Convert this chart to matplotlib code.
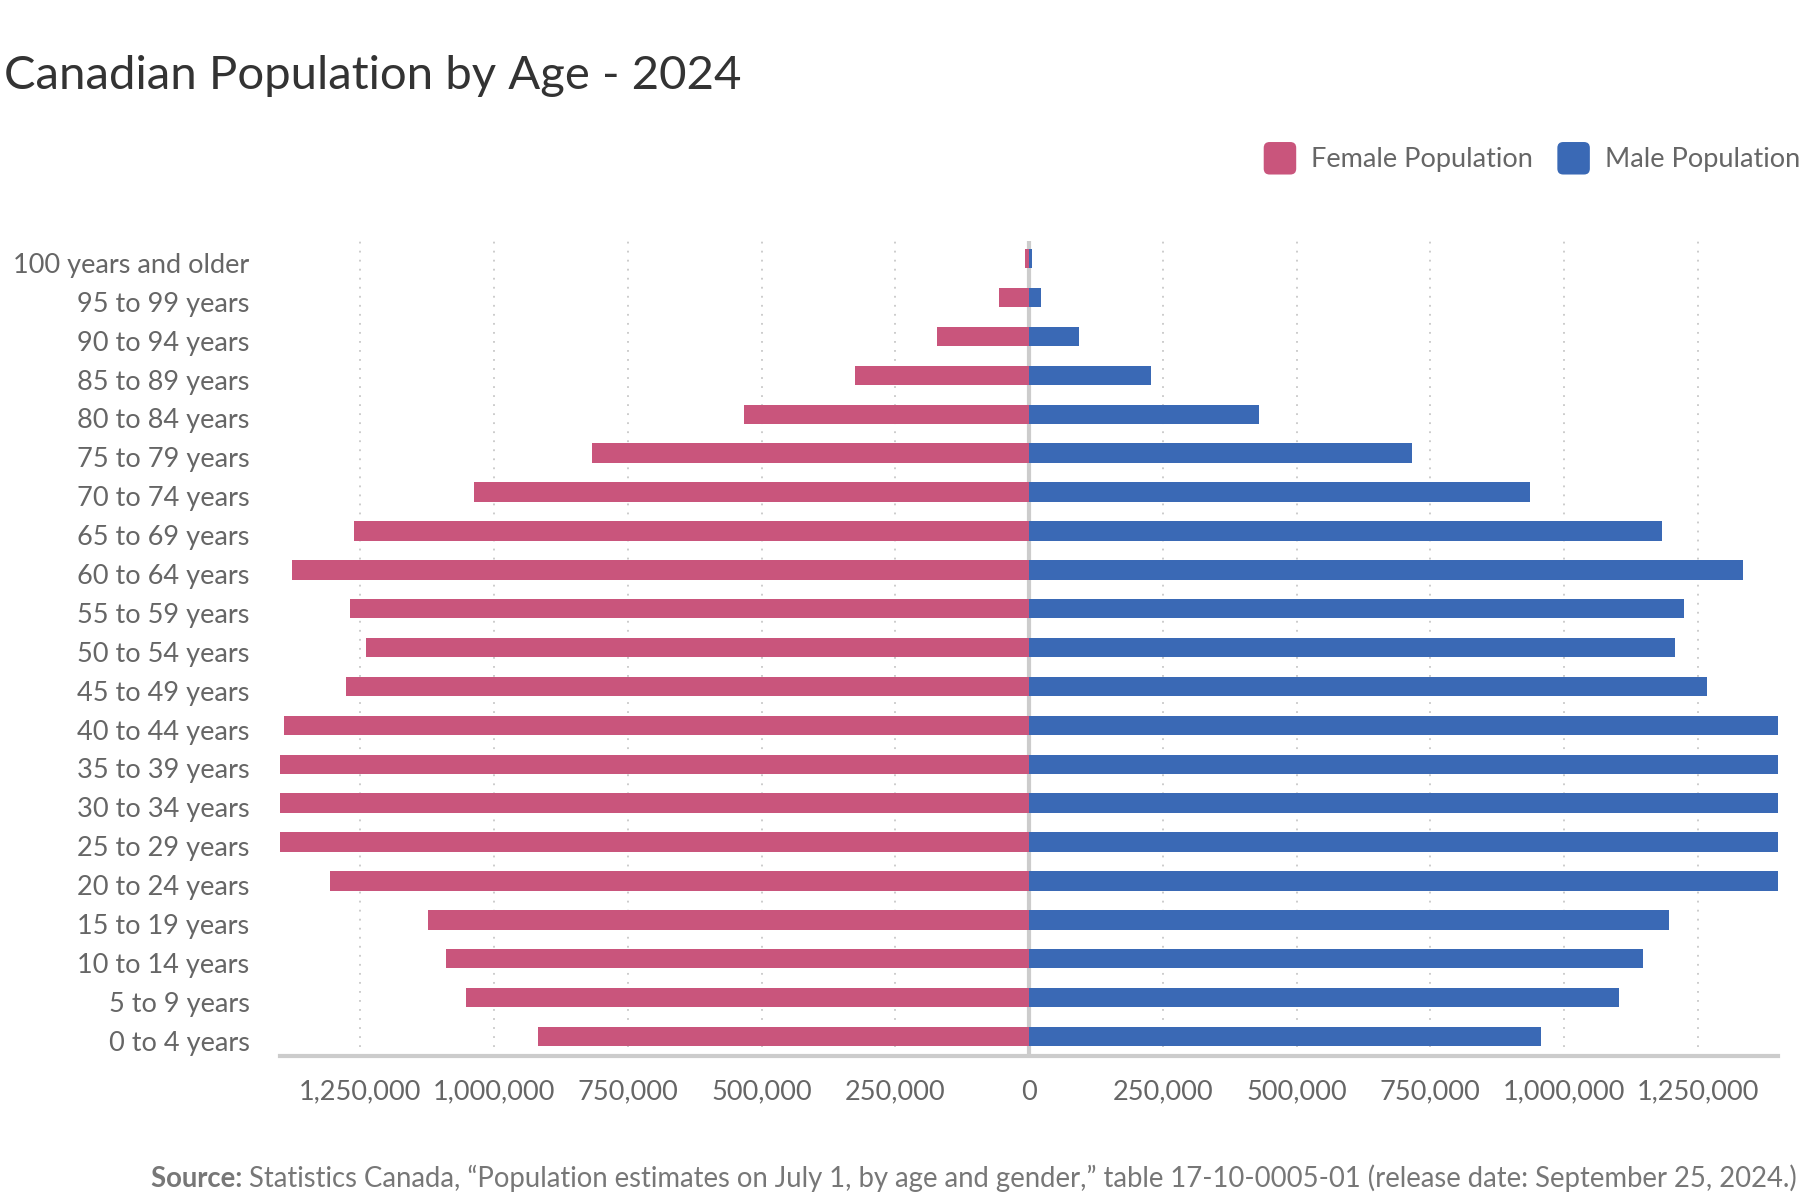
import numpy as np
import matplotlib
matplotlib.use("Agg")
import matplotlib.pyplot as plt
import matplotlib.transforms as mtransforms
from matplotlib.patches import FancyBboxPatch, Patch
from matplotlib.legend_handler import HandlerPatch
from matplotlib.ticker import FuncFormatter, MultipleLocator

plt.rcParams['font.family'] = ['Lato', 'DejaVu Sans']

age_groups = ["0 to 4 years", "5 to 9 years", "10 to 14 years", "15 to 19 years",
              "20 to 24 years", "25 to 29 years", "30 to 34 years", "35 to 39 years",
              "40 to 44 years", "45 to 49 years", "50 to 54 years", "55 to 59 years",
              "60 to 64 years", "65 to 69 years", "70 to 74 years", "75 to 79 years",
              "80 to 84 years", "85 to 89 years", "90 to 94 years", "95 to 99 years",
              "100 years and older"]
female_pop = [917500, 1052000, 1089000, 1123000, 1307000, 1450000, 1500000, 1470000,
              1393000, 1277000, 1239000, 1269000, 1378000, 1262000, 1037000, 816600,
              532000, 325800, 172600, 56600, 8000]
male_pop = [957700, 1103000, 1148000, 1197000, 1480000, 1560000, 1570000, 1500000,
            1420000, 1267800, 1208000, 1224700, 1334000, 1183800, 936800, 715600,
            430000, 227700, 93100, 22200, 6000]

female_color = '#C9557C'
male_color = '#3A69B5'
grey_text = '#666666'


class RoundSquare(HandlerPatch):
    def create_artists(self, legend, orig_handle, xdescent, ydescent, width, height, fontsize, trans):
        s = width
        p = FancyBboxPatch((-xdescent, -ydescent + (height - s) / 2), s, s,
                           boxstyle="round,pad=0,rounding_size=%f" % (s * 0.18),
                           facecolor=orig_handle.get_facecolor(), edgecolor='none',
                           transform=trans)
        return [p]


fig = plt.figure(figsize=(18, 12), dpi=100)
ax = fig.add_axes([0.1556, 0.1200, 0.8322, 0.6790])

y = np.arange(len(age_groups))
ax.barh(y, -np.array(female_pop), height=0.5, color=female_color, zorder=3, label='Female Population')
ax.barh(y, male_pop, height=0.5, color=male_color, zorder=3, label='Male Population')

ax.set_xlim(-1400000, 1400000)
ax.set_ylim(-0.5, len(age_groups) - 0.55)

ax.xaxis.set_major_locator(MultipleLocator(250000))
ax.xaxis.set_major_formatter(FuncFormatter(lambda v, p: f"{abs(int(round(v))):,}"))
ax.set_yticks(y)
ax.set_yticklabels(age_groups)

ax.grid(axis='x', linestyle=(0, (1, 4)), color='#c8c8c8', linewidth=1.3, zorder=0)
ax.axvline(0, color='#cccccc', linewidth=3, zorder=2)

for s in ['top', 'right', 'left']:
    ax.spines[s].set_visible(False)
ax.spines['bottom'].set_color('#cccccc')
ax.spines['bottom'].set_linewidth(3)

ax.tick_params(axis='both', length=0, labelsize=19.5, labelcolor=grey_text)
ax.tick_params(axis='y', pad=22)
ax.tick_params(axis='x', pad=17)

# nudge age labels a touch lower, as in the original
shift = mtransforms.ScaledTranslation(0, -3 / 72, fig.dpi_scale_trans)
for lbl in ax.get_yticklabels():
    lbl.set_transform(lbl.get_transform() + shift)

fig.text(0.002, 0.926, "Canadian Population by Age - 2024", fontsize=34, color='#333333',
         ha='left', va='baseline')

handles = [Patch(facecolor=female_color), Patch(facecolor=male_color)]
fig.legend(handles, ['Female Population', 'Male Population'], loc='center right',
           bbox_to_anchor=(1.0, 0.868), ncol=2, frameon=False, fontsize=19.5,
           labelcolor=grey_text, handler_map={Patch: RoundSquare()},
           handlelength=1.2, handleheight=1.2, handletextpad=0.55,
           columnspacing=0.9, borderpad=0, borderaxespad=0)

# source line: bold label followed by regular text, right aligned
rest = fig.text(0.998, 0.011,
                "Statistics Canada, \u201cPopulation estimates on July 1, by age and gender,\u201d "
                "table 17-10-0005-01 (release date: September 25, 2024.)",
                fontsize=19.8, color='#777777', ha='right', va='baseline')
fig.canvas.draw()
bb = rest.get_window_extent(renderer=fig.canvas.get_renderer())
x0 = bb.x0 / fig.bbox.width
fig.text(x0, 0.011, "Source: ", fontsize=19.8, color='#777777', fontweight='bold',
         ha='right', va='baseline')

fig.savefig('out.png', dpi=100)
